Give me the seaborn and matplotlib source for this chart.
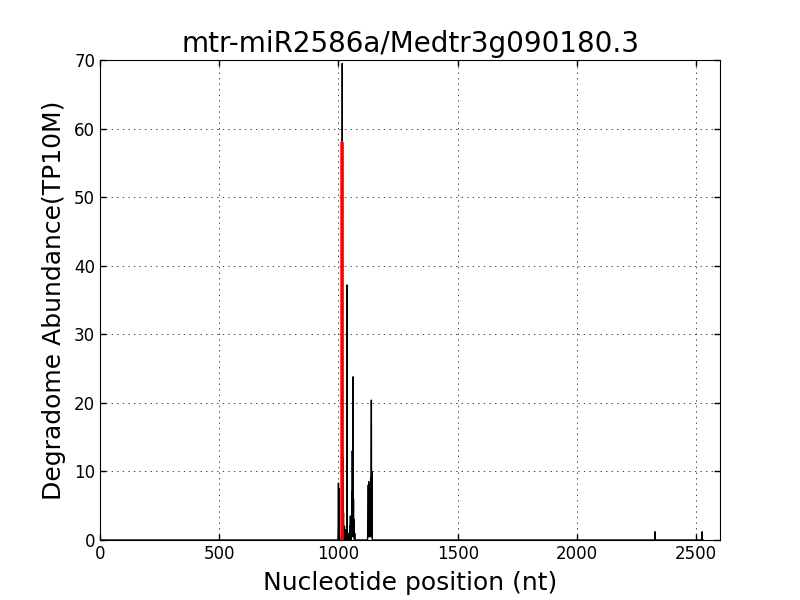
import matplotlib
matplotlib.use("Agg")
import matplotlib.pyplot as plt
import numpy as np
import pandas as pd
import seaborn as sns

title = "mtr-miR2586a/Medtr3g090180.3"
transcript_len = 2530

# degradome reads (position in nt, abundance in TP10M)
positions = [999, 1000, 1001, 1002, 1003, 1004,
             1016, 1017, 1018, 1019, 1020, 1021, 1022, 1023, 1025, 1027, 1030, 1033,
             1036, 1037, 1040,
             1045, 1048, 1050, 1052, 1054, 1055, 1056, 1057, 1058, 1059, 1060,
             1061, 1062, 1063, 1064, 1065, 1066, 1068,
             1123, 1124, 1125, 1126, 1127, 1128, 1129, 1130, 1131, 1132, 1133,
             1134, 1135, 1136, 1137, 1138, 1139, 1140, 1141,
             2328, 2525]
abundance = [2.0, 8.3, 0.5, 7.5, 0.5, 1.0,
             69.5, 3.0, 6.0, 12.0, 0.5, 4.0, 0.5, 1.5, 2.0, 1.0, 1.5, 1.0,
             37.2, 1.0, 0.5,
             1.0, 2.0, 3.5, 2.0, 3.0, 0.5, 7.0, 0.5, 13.0, 0.5, 8.0,
             23.8, 0.5, 6.0, 0.5, 3.0, 1.5, 1.0,
             2.0, 0.5, 8.0, 0.5, 8.5, 0.5, 8.0, 0.5, 7.0, 0.5, 8.0,
             0.5, 9.0, 0.5, 10.5, 20.4, 0.5, 10.0, 1.0,
             1.2, 1.2]

# predicted cleavage site
target_pos = [1014, 1015, 1016]
target_abund = [0.0, 58.0, 0.0]

sns.set_style("whitegrid", {
    "axes.edgecolor": "black",
    "axes.linewidth": 1.0,
    "axes.labelcolor": "black",
    "text.color": "black",
    "grid.color": "black",
    "grid.linestyle": (0, (2, 6)),
    "xtick.direction": "in",
    "ytick.direction": "in",
    "xtick.top": True,
    "ytick.right": True,
    "xtick.bottom": True,
    "ytick.left": True,
    "xtick.color": "black",
    "ytick.color": "black",
})
plt.rcParams["font.family"] = ["DejaVu Sans"]
plt.rcParams["grid.linewidth"] = 0.5
plt.rcParams["xtick.major.size"] = 4
plt.rcParams["ytick.major.size"] = 4

reads = pd.Series(abundance, index=positions)
reads = reads.reindex(range(0, transcript_len + 1), fill_value=0.0)
df = pd.DataFrame({"pos": reads.index, "abund": reads.values})

fig = plt.figure(figsize=(8, 6), dpi=100)
ax = fig.add_axes([0.125, 0.1, 0.775, 0.8])

sns.lineplot(data=df, x="pos", y="abund", ax=ax, color="black",
             linewidth=1.0, estimator=None)
sns.lineplot(x=target_pos, y=target_abund, ax=ax, color="red",
             linewidth=2.0, estimator=None)

ax.set_xlim(0, 2600)
ax.set_ylim(0, 70)
ax.set_xticks(np.arange(0, 2501, 500))
ax.set_yticks(np.arange(0, 71, 10))
ax.tick_params(labelsize=12, width=1)
ax.grid(True)

ax.set_title(title, fontsize=20, color="black")
ax.set_xlabel("Nucleotide position (nt)", fontsize=18, labelpad=6)
ax.set_ylabel("Degradome Abundance(TP10M)", fontsize=18, labelpad=6)

plt.savefig("out.png", dpi=100)
